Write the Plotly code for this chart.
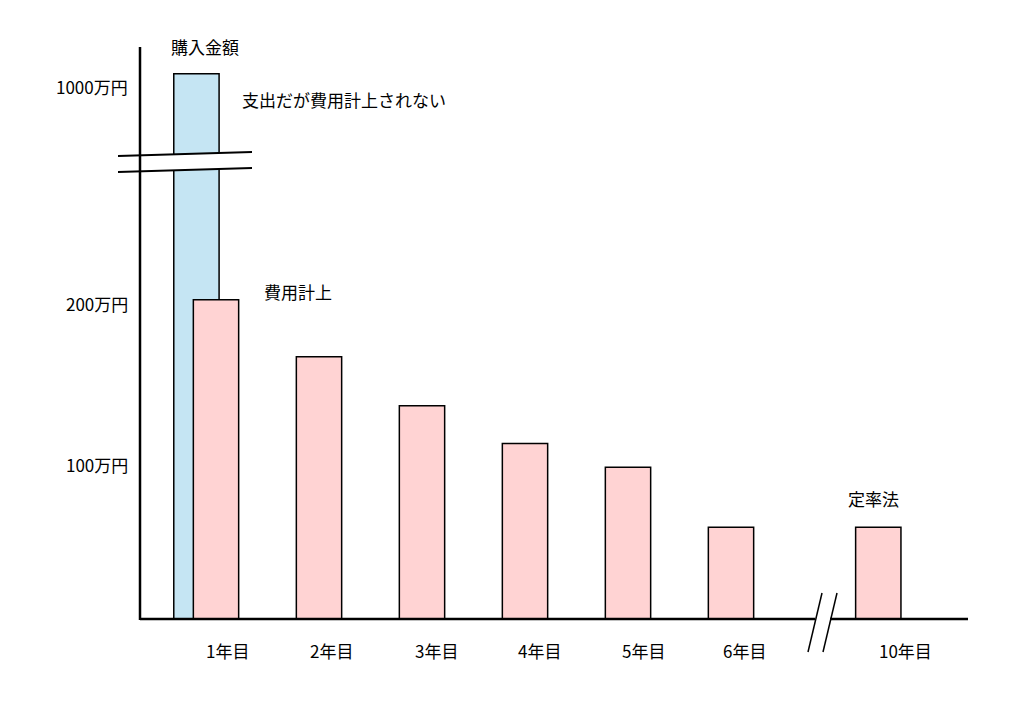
import plotly.graph_objects as go

years = ["1年目", "2年目", "3年目", "4年目", "5年目", "6年目", "10年目"]
expense = [202, 166, 135, 111, 96, 58, 58]   # 万円
purchase = 1000                               # 万円
y_ticks = [100, 200, 1000]
y_tick_labels = ["100万円", "200万円", "1000万円"]

# broken y axis: values above 250 compressed
def disp(v):
    return v if v <= 250 else 337 + (v - 1000) * 0.1

xpos = [1, 2, 3, 4, 5, 6, 7.43]
PX = 103.0
def px_x(p): return 1 + (p - 216) / PX
def px_y(p): return (619 - p) / 1.58
def pp_x(p): return (p - 140) / 828.0
def pp_y(p): return (619 - p) / 569.0

FONT = "Noto Sans CJK JP"
fig = go.Figure()
fig.add_bar(x=[xpos[0] - 0.19], y=[disp(purchase) + 8], width=0.44,
            marker=dict(color="#c5e5f3", line=dict(color="black", width=1.5)))
fig.add_bar(x=xpos, y=expense, width=0.44,
            marker=dict(color="#ffd3d3", line=dict(color="black", width=1.5)))

shapes = []
def pline(x0, y0, x1, y1, w):
    shapes.append(dict(type="line", xref="paper", yref="paper", x0=pp_x(x0), y0=pp_y(y0),
                       x1=pp_x(x1), y1=pp_y(y1), line=dict(color="black", width=w)))
shapes.append(dict(type="path", xref="paper", yref="paper",
    path=f"M {pp_x(118)},{pp_y(156)} L {pp_x(252)},{pp_y(152)} L {pp_x(252)},{pp_y(168)} L {pp_x(118)},{pp_y(172)} Z",
    fillcolor="white", line=dict(width=0)))
pline(118, 156, 252, 152, 2)
pline(118, 172, 252, 168, 2)
pline(140, 620, 140, 47, 2.5)
pline(140, 619, 815, 619, 2.5)
pline(830, 619, 968, 619, 2.5)
pline(808, 652, 822, 593, 1.5)
pline(823, 652, 837, 593, 1.5)

ann = []
def txt(t, x, y, anchor="center"):
    ann.append(dict(text=t, x=pp_x(x), y=pp_y(y), xref="paper", yref="paper", showarrow=False,
                    xanchor=anchor, yanchor="middle", font=dict(family=FONT, size=17, color="black")))
for lbl, yp in zip(y_tick_labels, [464, 303, 87]):
    txt(lbl, 130, yp, "right")
label_px = [227, 331, 436, 539, 643, 744, 905]
for lbl, xp in zip(years, label_px):
    txt(lbl, xp, 650)
txt("購入金額", 205, 47)
txt("支出だが費用計上されない", 240, 99, "left")
txt("費用計上", 262, 291, "left")
txt("定率法", 873, 498)

fig.update_layout(width=1024, height=709, margin=dict(l=132, r=64, t=42, b=98),
    plot_bgcolor="white", paper_bgcolor="white", showlegend=False, barmode="overlay",
    shapes=shapes, annotations=ann,
    xaxis=dict(range=[px_x(140), px_x(968)], visible=False),
    yaxis=dict(range=[0, 360], visible=False))
fig.write_html("out.html")
